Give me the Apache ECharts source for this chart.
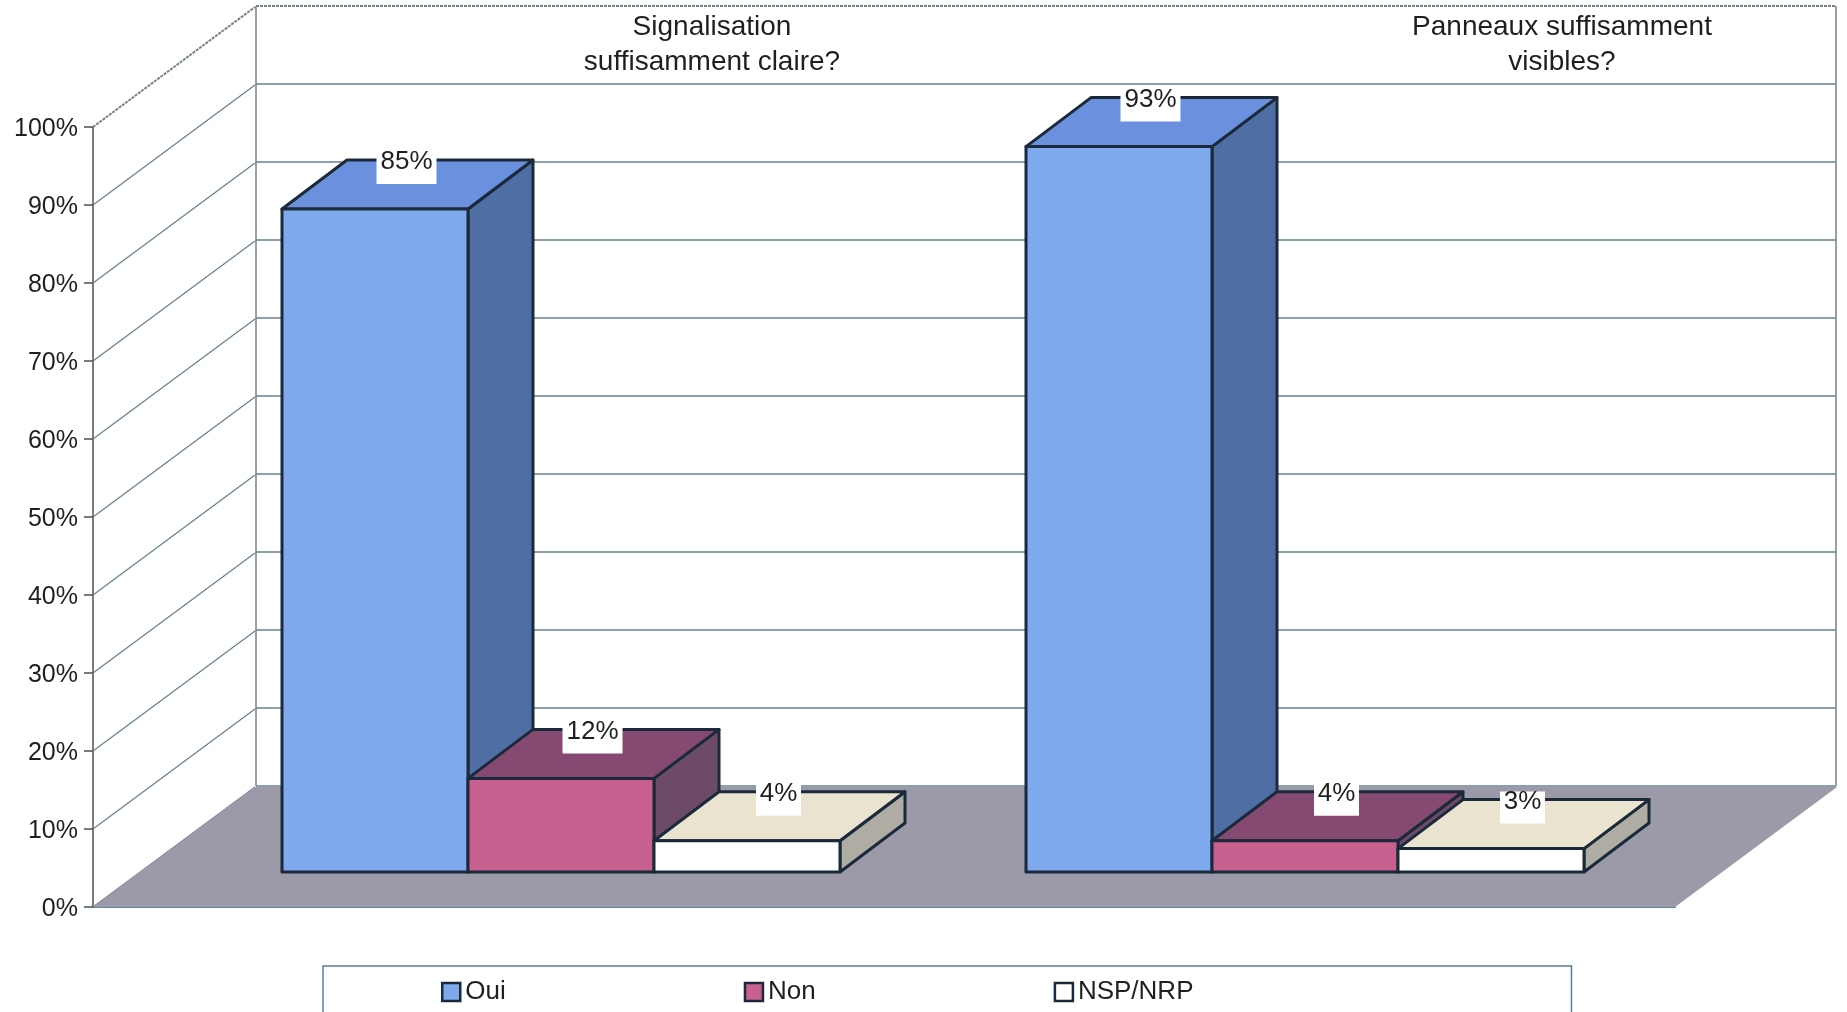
<!DOCTYPE html>
<html>
<head>
<meta charset="utf-8">
<style>html,body{margin:0;padding:0;background:#fff}#chart{width:1847px;height:1012px}</style>
<script src="https://cdn.jsdelivr.net/npm/echarts@6/dist/echarts.min.js"></script>
</head>
<body>
<div id="chart"></div>
<script>
// Survey answers per question, in percent
const categories = ['Signalisation\nsuffisamment claire?', 'Panneaux suffisamment\nvisibles?'];
const seriesNames = ['Oui', 'Non', 'NSP/NRP'];
const oui = [85, 93];
const non = [12, 4];
const nsp = [4, 3];
const tickValues = [0, 10, 20, 30, 40, 50, 60, 70, 80, 90, 100];

const FONT = '"Liberation Sans", Arial, sans-serif';
const TEXT = '#1f1f1f';
const EDGE = '#1b2a3a';
const GRID_LINE = '#64808f';
const ROUGH_LINE = '#76828c';

// Oblique offset from the front of the chart box to its back wall
const BOX_DX = 162, BOX_DY = -120;
// Oblique offset from the front of a bar to its back
const BAR_DX = 65, BAR_DY = -49;

const palettes = [
  { front: '#7ea9ec', top: '#6b90dd', side: '#4f6ea4' },
  { front: '#c8608f', top: '#864a72', side: '#6e4a69' },
  { front: '#ffffff', top: '#e9e3cf', side: '#aeaca3' }
];

const poly = (points, fill, stroke, lineWidth) => ({
  type: 'polygon',
  shape: { points },
  style: { fill, stroke: stroke || null, lineWidth: lineWidth || 0, lineJoin: 'round' }
});

// One 3D column: front face, top face, right face and its value tag
function barRenderer(slot) {
  return function (params, api) {
    const cat = api.value(0), val = api.value(1);
    const base = api.coord([cat, 0]);
    const topY = api.coord([cat, val])[1];
    const w = api.size([1, 0])[0] / 4;
    const x0 = base[0] + (slot - 1.5) * w, x1 = x0 + w, y0 = base[1];
    const c = palettes[slot];
    const label = val + '%';
    const cx = (x0 + x1) / 2 + BAR_DX / 2 - 1, backY = topY + BAR_DY;
    const tagW = label.length > 2 ? 60 : 45;
    return {
      type: 'group',
      children: [
        poly([[x1, y0], [x1 + BAR_DX, y0 + BAR_DY], [x1 + BAR_DX, backY], [x1, topY]], c.side, EDGE, 3),
        poly([[x0, topY], [x0 + BAR_DX, backY], [x1 + BAR_DX, backY], [x1, topY]], c.top, EDGE, 3),
        poly([[x0, y0], [x1, y0], [x1, topY], [x0, topY]], c.front, EDGE, 3),
        { type: 'rect', shape: { x: cx - tagW / 2, y: backY - 8, width: tagW, height: 32 }, style: { fill: '#fff' } },
        { type: 'text', style: { text: label, x: cx, y: backY + 2, align: 'center', verticalAlign: 'middle', textAlign: 'center', textVerticalAlign: 'middle', font: '26px ' + FONT, fill: TEXT } }
      ]
    };
  };
}

// Grey floor of the chart box, spanning the front axis width
function renderFloor(params, api) {
  const a = api.coord([0, 0]), b = api.coord([1, 0]);
  return poly([a, b, [b[0] + BOX_DX, b[1] + BOX_DY], [a[0] + BOX_DX, a[1] + BOX_DY]], '#9c9aa8');
}

// Diagonal gridline on the left wall for one tick
function renderWallLine(params, api) {
  const v = api.value(0);
  const p = api.coord([0, v]);
  const top = v === 100;
  return {
    type: 'line',
    shape: { x1: p[0], y1: p[1], x2: p[0] + BOX_DX, y2: p[1] + BOX_DY },
    style: top
      ? { stroke: ROUGH_LINE, lineWidth: 2, lineDash: [3, 1] }
      : { stroke: GRID_LINE, lineWidth: 1.2 }
  };
}

// Upper edge of the back wall
function renderWallTop(params, api) {
  const a = api.coord([0, api.value(0)]), b = api.coord([1, api.value(0)]);
  return {
    type: 'line',
    shape: { x1: a[0], y1: a[1], x2: b[0], y2: b[1] },
    style: { stroke: ROUGH_LINE, lineWidth: 2, lineDash: [3, 1] }
  };
}

const barData = [oui, non, nsp];

const option = {
  animation: false,
  backgroundColor: '#fff',
  textStyle: { fontFamily: FONT },
  title: categories.map((text, i) => ({
    text,
    left: [712, 1562][i],
    top: 10,
    textAlign: 'center',
    padding: 0,
    textStyle: { fontFamily: FONT, fontSize: 28, fontWeight: 'normal', color: TEXT, lineHeight: 35 }
  })),
  legend: {
    left: 323,
    top: 966,
    padding: [13, 378, 8, 118],
    itemGap: 238,
    itemWidth: 18,
    itemHeight: 18,
    borderColor: '#5f7d90',
    borderWidth: 1.5,
    borderRadius: 0,
    textStyle: { fontFamily: FONT, fontSize: 26, color: TEXT },
    data: seriesNames.map((name, i) => ({
      name,
      icon: 'rect',
      itemStyle: { color: palettes[i].front, borderColor: EDGE, borderWidth: 2.5 }
    }))
  },
  grid: [
    { left: 93, top: 127, width: 1582, height: 780 },   // front plane with the value scale
    { left: 189, top: 92, width: 1488, height: 780 },   // plane holding the bar fronts
    { left: 256, top: 6, width: 1580, height: 780 }     // back wall
  ],
  xAxis: [
    {
      gridIndex: 0, type: 'value', min: 0, max: 1, interval: 1,
      axisLine: { show: true, lineStyle: { color: '#5b8aa6', width: 2 } },
      axisTick: { show: false }, axisLabel: { show: false }, splitLine: { show: false }
    },
    {
      gridIndex: 1, type: 'category', data: categories,
      axisLine: { show: false }, axisTick: { show: false }, axisLabel: { show: false }
    },
    {
      gridIndex: 2, type: 'value', min: 0, max: 1, interval: 1,
      axisLine: { show: false }, axisTick: { show: false }, axisLabel: { show: false },
      splitLine: { show: true, lineStyle: { color: ROUGH_LINE, width: 1.5 } }
    }
  ],
  yAxis: [
    {
      gridIndex: 0, type: 'value', min: 0, max: 100, interval: 10,
      axisLine: { show: true, lineStyle: { color: '#4a4f55', width: 1.5 } },
      axisTick: { show: true, length: 9, lineStyle: { color: '#4a4f55', width: 1.5 } },
      axisLabel: {
        formatter: '{t|{value}%}', margin: 15,
        rich: { t: { fontFamily: FONT, fontSize: 25, color: TEXT, padding: [5, 0, 0, 0] } }
      },
      splitLine: { show: false }
    },
    {
      gridIndex: 1, type: 'value', min: 0, max: 100, interval: 10,
      axisLine: { show: false }, axisTick: { show: false }, axisLabel: { show: false }, splitLine: { show: false }
    },
    {
      gridIndex: 2, type: 'value', min: 0, max: 100, interval: 10,
      axisLine: { show: false }, axisTick: { show: false }, axisLabel: { show: false },
      splitLine: { show: true, showMaxLine: false, lineStyle: { color: GRID_LINE, width: 1.5 } }
    }
  ],
  series: [
    {
      type: 'custom', name: 'wall', xAxisIndex: 0, yAxisIndex: 0, z: 1, silent: true,
      renderItem: renderWallLine, data: tickValues.map(v => [v]), encode: { y: 0 }
    },
    {
      type: 'custom', name: 'wallTop', xAxisIndex: 2, yAxisIndex: 2, z: 1, silent: true,
      renderItem: renderWallTop, data: [[tickValues[tickValues.length - 1]]], encode: { y: 0 }
    },
    {
      type: 'custom', name: 'floor', xAxisIndex: 0, yAxisIndex: 0, z: 2, silent: true,
      renderItem: renderFloor, data: [[0]], encode: { y: 0 }
    },
    ...seriesNames.map((name, slot) => ({
      type: 'custom', name, xAxisIndex: 1, yAxisIndex: 1, z: 3 + slot,
      itemStyle: { color: palettes[slot].front },
      renderItem: barRenderer(slot),
      data: barData[slot].map((v, i) => [i, v]),
      encode: { x: 0, y: 1 }
    }))
  ]
};

echarts.init(document.getElementById('chart'), null, { renderer: 'canvas' }).setOption(option);
</script>
</body>
</html>
